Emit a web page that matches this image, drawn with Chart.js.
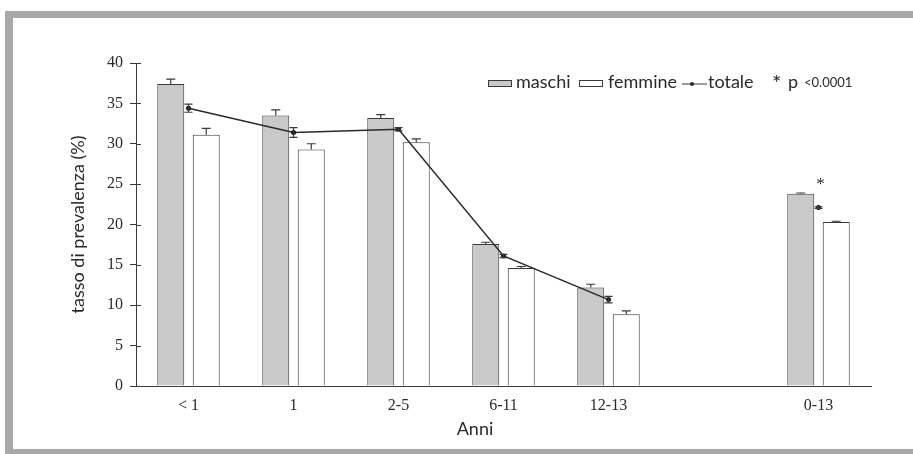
<!DOCTYPE html>
<html>
<head>
<meta charset="utf-8">
<script src="https://cdn.jsdelivr.net/npm/chart.js@4.4.0/dist/chart.umd.min.js"></script>
<style>
    html, body { margin: 0; padding: 0; background: #fff; }
    body { width: 913px; height: 454px; position: relative; overflow: hidden; }
    .cornice {
        position: absolute; left: 5px; top: 11px; width: 920px; height: 431px;
        border-left: 8px solid #a8a8a8; border-top: 7px solid #a8a8a8; border-bottom: 5px solid #a8a8a8;
    }
    #prevalenzaChart { position: absolute; left: 0; top: 0; }
</style>
</head>
<body>
<div class="cornice"></div>
<canvas id="prevalenzaChart" width="913" height="454"></canvas>
<script>
// classi di eta (la categoria vuota crea lo stacco prima del totale 0-13)
const anni = ["< 1", "1", "2-5", "6-11", "12-13", "", "0-13"];

const maschi = [37.4, 33.5, 33.2, 17.6, 12.2, null, 23.8];
const maschiErr = [0.6, 0.7, 0.4, 0.2, 0.4, null, 0.1];

const femmine = [31.1, 29.3, 30.2, 14.6, 8.9, null, 20.3];
const femmineErr = [0.8, 0.7, 0.4, 0.2, 0.4, null, 0.1];

const totale = [34.4, 31.4, 31.8, 16.1, 10.7, null, 22.1];
const totaleErr = [0.5, 0.6, 0.2, 0.2, 0.4, null, 0.1];

const significativo = ["", "", "", "", "", "", "*"];
const yTicks = [0, 5, 10, 15, 20, 25, 30, 35, 40];

const coloreMaschi = "#c9c9c9";
const coloreBordo = "#3a3a3a";
const coloreTesto = "#2a2a2a";

// barre di errore: solo verso l'alto per le barre, in entrambe le direzioni per la linea
const erroriPlugin = {
    id: "errori",
    afterDatasetsDraw(chart) {
        const ctx = chart.ctx;
        const y = chart.scales.y;
        ctx.save();
        ctx.strokeStyle = coloreBordo;
        ctx.lineWidth = 1.2;
        chart.data.datasets.forEach(function (ds, i) {
            const meta = chart.getDatasetMeta(i);
            meta.data.forEach(function (el, j) {
                const v = ds.data[j];
                const e = ds.errori[j];
                if (v == null || e == null) return;
                const top = y.getPixelForValue(v + e);
                const bottom = ds.type === "line" ? y.getPixelForValue(v - e) : el.y;
                const half = ds.type === "line" ? 4 : 4.5;
                ctx.beginPath();
                ctx.moveTo(el.x, bottom);
                ctx.lineTo(el.x, top);
                ctx.moveTo(el.x - half, top);
                ctx.lineTo(el.x + half, top);
                if (ds.type === "line") {
                    ctx.moveTo(el.x - half, bottom);
                    ctx.lineTo(el.x + half, bottom);
                }
                ctx.stroke();
            });
        });

        // tacche dell'asse y che attraversano l'asse
        ctx.lineWidth = 1;
        ctx.beginPath();
        y.ticks.forEach(function (t) {
            const py = Math.round(y.getPixelForValue(t.value)) + 0.5;
            ctx.moveTo(y.right, py);
            ctx.lineTo(y.right + 5, py);
        });
        ctx.stroke();

        // asterisco di significativita sopra il gruppo
        ctx.fillStyle = coloreTesto;
        ctx.font = "17px 'Liberation Serif'";
        ctx.textAlign = "center";
        ctx.textBaseline = "middle";
        const x = chart.scales.x;
        significativo.forEach(function (s, j) {
            if (!s) return;
            ctx.fillText(s, x.getPixelForValue(j) + 2, y.getPixelForValue(24.9));
        });
        ctx.restore();
    },
};

const legendaPlugin = {
    id: "legenda",
    afterDraw(chart) {
        const ctx = chart.ctx;
        const ds = chart.data.datasets;
        ctx.save();
        ctx.font = "18px Lato";
        ctx.textBaseline = "middle";
        ctx.lineWidth = 1;
        ctx.strokeStyle = coloreBordo;

        ctx.fillStyle = ds[0].backgroundColor;
        ctx.fillRect(488, 80, 23, 6);
        ctx.strokeRect(488.5, 80.5, 23, 6);
        ctx.fillStyle = coloreTesto;
        ctx.fillText(ds[0].label, 516, 82);

        ctx.fillStyle = ds[1].backgroundColor;
        ctx.fillRect(579, 80, 23, 6);
        ctx.strokeRect(579.5, 80.5, 23, 6);
        ctx.fillStyle = coloreTesto;
        ctx.fillText(ds[1].label, 608, 82);

        ctx.beginPath();
        ctx.moveTo(682, 84);
        ctx.lineTo(707, 84);
        ctx.stroke();
        ctx.beginPath();
        ctx.arc(692, 84, 2, 0, Math.PI * 2);
        ctx.fillStyle = coloreTesto;
        ctx.fill();
        ctx.fillText(ds[2].label, 708, 82);

        ctx.font = "22px Lato";
        ctx.fillText("*", 772, 84);
        ctx.font = "18px Lato";
        ctx.fillText("p", 788, 82);
        ctx.font = "13px Lato";
        ctx.fillText("<0.0001", 804, 83);

        // titolo asse x
        ctx.font = "18px Lato";
        ctx.textAlign = "center";
        ctx.fillText("Anni", 475, 429);
        ctx.restore();
    },
};

document.addEventListener("DOMContentLoaded", function () {
    const ctx = document.getElementById("prevalenzaChart");
    if (!ctx) return;

    new Chart(ctx, {
        type: "bar",
        data: {
            labels: anni,
            datasets: [
                {
                    label: "maschi",
                    data: maschi,
                    errori: maschiErr,
                    backgroundColor: coloreMaschi,
                    borderColor: coloreBordo,
                    borderWidth: 1,
                    categoryPercentage: 0.676,
                    barPercentage: 0.76,
                    order: 2,
                },
                {
                    label: "femmine",
                    data: femmine,
                    errori: femmineErr,
                    backgroundColor: "#ffffff",
                    borderColor: coloreBordo,
                    borderWidth: 1,
                    categoryPercentage: 0.676,
                    barPercentage: 0.76,
                    order: 2,
                },
                {
                    type: "line",
                    label: "totale",
                    data: totale,
                    errori: totaleErr,
                    borderColor: "#2a2a2a",
                    backgroundColor: "#1a1a1a",
                    borderWidth: 1.5,
                    pointRadius: 2.5,
                    pointBorderWidth: 0,
                    spanGaps: false,
                    tension: 0,
                    order: 1,
                },
            ],
        },
        options: {
            responsive: false,
            animation: false,
            layout: {
                padding: { left: 0, right: 42, top: 63, bottom: 0 },
            },
            plugins: {
                legend: { display: false },
                tooltip: { enabled: false },
            },
            scales: {
                x: {
                    offset: true,
                    afterFit: function (scale) {
                        scale.height = 68;
                    },
                    grid: { display: false, drawTicks: false },
                    border: { color: coloreBordo, width: 1 },
                    ticks: {
                        padding: 10,
                        color: coloreTesto,
                        font: { family: "'Liberation Serif'", size: 16 },
                    },
                },
                y: {
                    min: 0,
                    max: 40,
                    afterFit: function (scale) {
                        scale.width = 136;
                    },
                    afterBuildTicks: function (scale) {
                        scale.ticks = yTicks.map(function (v) {
                            return { value: v };
                        });
                    },
                    grid: {
                        drawOnChartArea: false,
                        tickLength: 6,
                        color: coloreBordo,
                    },
                    border: { color: coloreBordo, width: 1 },
                    ticks: {
                        padding: 7,
                        color: coloreTesto,
                        font: { family: "'Liberation Serif'", size: 16 },
                    },
                    title: {
                        display: true,
                        text: "tasso di prevalenza (%)",
                        color: coloreTesto,
                        font: { family: "Lato", size: 18 },
                        padding: { top: 67, bottom: 0 },
                    },
                },
            },
        },
        plugins: [erroriPlugin, legendaPlugin],
    });
});
</script>
</body>
</html>
